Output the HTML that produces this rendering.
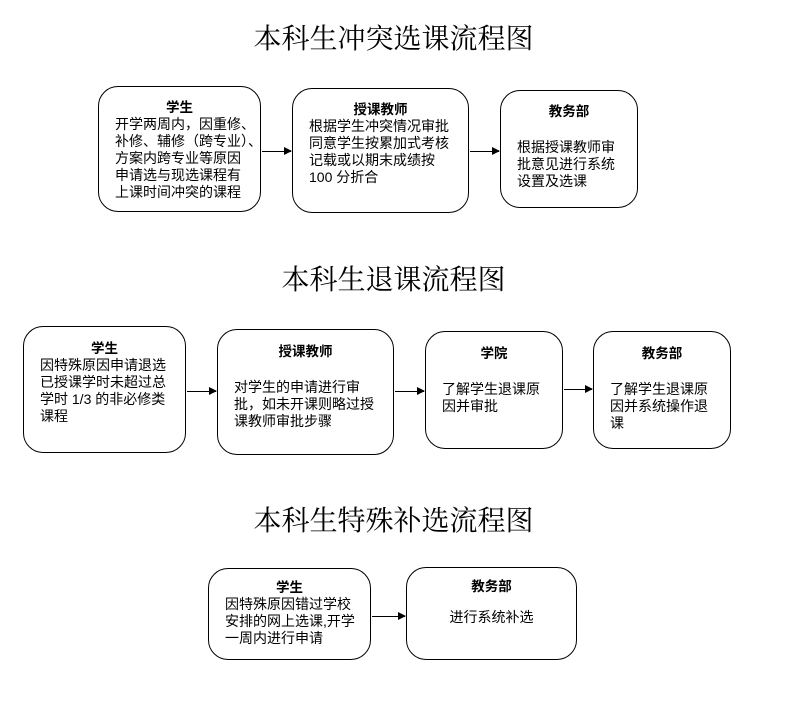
<!DOCTYPE html>
<html><head><meta charset="utf-8"><style>
body{margin:0;width:787px;height:716px;background:#fff;position:relative;font-family:"Liberation Serif","Noto Sans CJK SC",sans-serif;color:#000;overflow:hidden}
.t{position:absolute;left:0;width:787px;text-align:center;font-size:28px;font-family:"Noto Serif CJK SC","Liberation Serif",serif}
.b{position:absolute;border:1.3px solid #000;border-radius:20px;box-sizing:border-box;font-size:14px;line-height:17px;padding:0 10px;white-space:nowrap;font-family:"Liberation Sans","Noto Sans CJK SC",sans-serif}
.b .h{text-align:center;font-weight:bold;font-size:13.5px}
.a{position:absolute;height:1px;background:#000}
.a:after{content:"";position:absolute;right:-1px;top:-4px;border-left:8px solid #000;border-top:4.5px solid transparent;border-bottom:4.5px solid transparent}
</style></head><body>
<div class="t" style="top:17px">本科生冲突选课流程图</div>
<div class="b" style="left:98px;top:86px;width:163px;height:126px;padding:12px 0 0 16px"><div class="h" style="margin-right:16px">学生</div>开学两周内，因重修、<br>补修、辅修（跨专业）、<br>方案内跨专业等原因<br>申请选与现选课程有<br>上课时间冲突的课程</div>
<div class="a" style="left:262px;top:151px;width:29px"></div>
<div class="b" style="left:292px;top:88px;width:177px;height:125px;padding:12px 0 0 16px"><div class="h" style="margin-right:16px">授课教师</div>根据学生冲突情况审批<br>同意学生按累加式考核<br>记载或以期末成绩按<br>100 分折合</div>
<div class="a" style="left:470px;top:151px;width:29px"></div>
<div class="b" style="left:500px;top:90px;width:138px;height:118px;padding:12px 0 0 16px"><div class="h" style="margin-right:16px">教务部</div><div style="height:19px"></div>根据授课教师审<br>批意见进行系统<br>设置及选课</div>

<div class="t" style="top:258px">本科生退课流程图</div>
<div class="b" style="left:23px;top:326px;width:163px;height:127px;padding:13px 0 0 16px"><div class="h" style="margin-right:16px">学生</div>因特殊原因申请退选<br>已授课学时未超过总<br>学时 1/3 的非必修类<br>课程</div>
<div class="a" style="left:187px;top:391px;width:29px"></div>
<div class="b" style="left:217px;top:329px;width:177px;height:126px;padding:13px 0 0 16px"><div class="h" style="margin-right:16px">授课教师</div><div style="height:19px"></div>对学生的申请进行审<br>批，如未开课则略过授<br>课教师审批步骤</div>
<div class="a" style="left:395px;top:391px;width:29px"></div>
<div class="b" style="left:425px;top:331px;width:138px;height:118px;padding:13px 0 0 16px"><div class="h" style="margin-right:16px">学院</div><div style="height:19px"></div>了解学生退课原<br>因并审批</div>
<div class="a" style="left:564px;top:389px;width:28px"></div>
<div class="b" style="left:593px;top:331px;width:138px;height:118px;padding:13px 0 0 16px"><div class="h" style="margin-right:16px">教务部</div><div style="height:19px"></div>了解学生退课原<br>因并系统操作退<br>课</div>

<div class="t" style="top:499px">本科生特殊补选流程图</div>
<div class="b" style="left:208px;top:568px;width:163px;height:92px;padding:10px 0 0 16px"><div class="h" style="margin-right:16px">学生</div>因特殊原因错过学校<br>安排的网上选课,开学<br>一周内进行申请</div>
<div class="a" style="left:372px;top:616px;width:33px"></div>
<div class="b" style="left:406px;top:567px;width:171px;height:93px;padding:10px 0 0 0"><div class="h">教务部</div><div style="height:14px"></div><div style="text-align:center">进行系统补选</div></div>
</body></html>
